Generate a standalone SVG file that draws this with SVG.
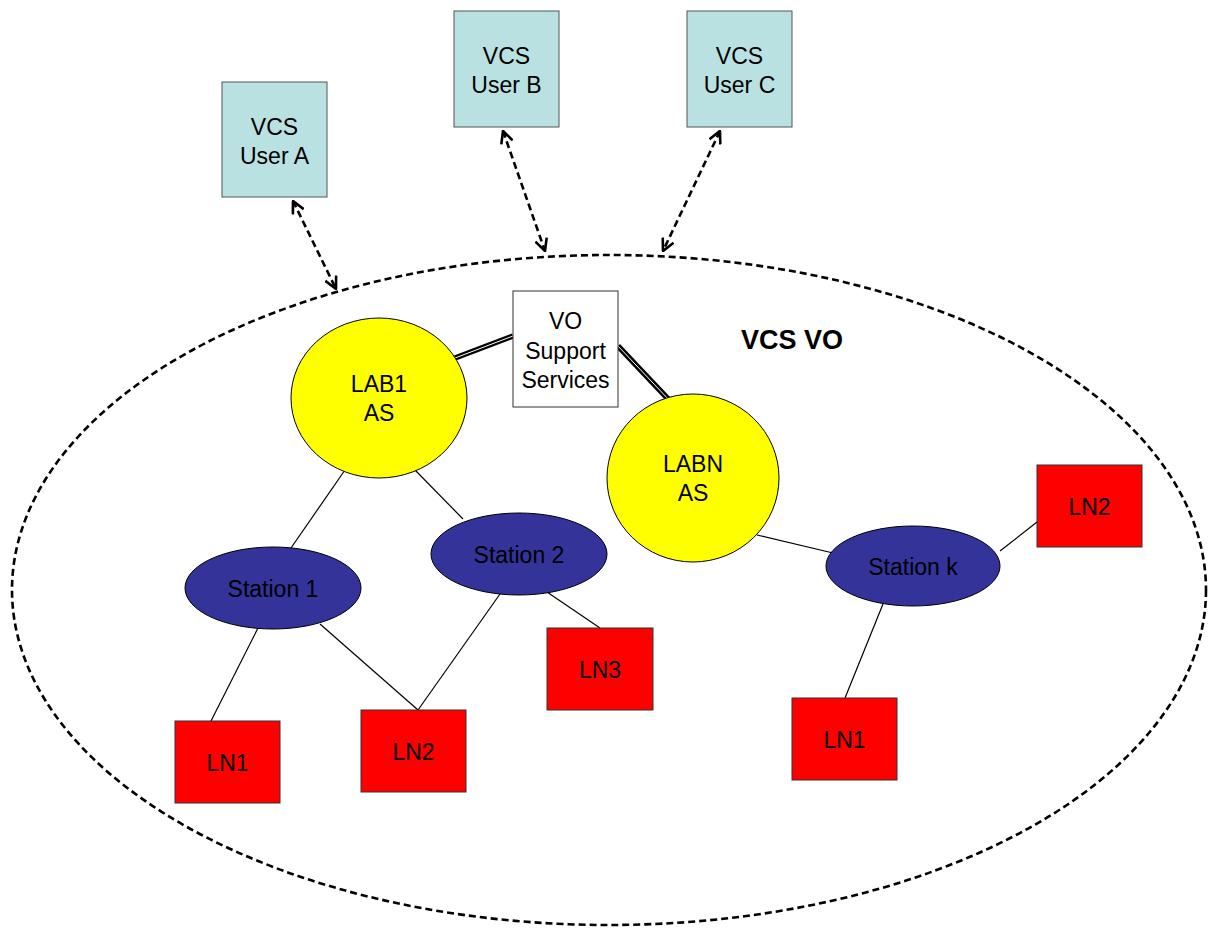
<svg xmlns="http://www.w3.org/2000/svg" width="1213" height="928" viewBox="0 0 1213 928">
<defs>
<marker id="ah" viewBox="0 0 14 14" refX="13" refY="7" markerWidth="14" markerHeight="14" markerUnits="userSpaceOnUse" orient="auto-start-reverse">
<path d="M1,1 L13,7 L1,13" fill="none" stroke="#000" stroke-width="2.6"/>
</marker>
<style>
text{font-family:"Liberation Sans",Arial,sans-serif;font-size:23px;fill:#000;text-anchor:middle}
.user{fill:#B9E1E2;stroke:#555;stroke-width:1}
.ln{fill:#FF0000;stroke:#333;stroke-width:1}
.as{fill:#FFFF00;stroke:#000;stroke-width:1}
.st{fill:#333399;stroke:#000;stroke-width:1}
.plain{stroke:#000;stroke-width:1.2;fill:none}
.dash{stroke:#000;stroke-width:2.6;fill:none;stroke-dasharray:7 4}
.dbl{stroke:#000;stroke-width:5.5;fill:none}
.dblin{stroke:#fff;stroke-width:1;fill:none}
</style>
</defs>
<rect width="1213" height="928" fill="#fff"/>
<ellipse id="vo" cx="609" cy="590" rx="597" ry="335" class="dash"/>
<text x="792" y="349" style="font-weight:bold;font-size:27px">VCS VO</text>
<g id="connectors">
<line class="plain" x1="345" y1="470" x2="291" y2="548"/>
<line class="plain" x1="415" y1="470" x2="463" y2="519"/>
<line class="plain" x1="258" y1="628" x2="211" y2="721"/>
<line class="plain" x1="320" y1="624" x2="418" y2="710"/>
<line class="plain" x1="500" y1="594" x2="418" y2="710"/>
<line class="plain" x1="547" y1="592" x2="600" y2="628"/>
<line class="plain" x1="757" y1="535" x2="833" y2="553"/>
<line class="plain" x1="1000" y1="551" x2="1037" y2="522"/>
<line class="plain" x1="883" y1="604" x2="845" y2="698"/>
<line class="dbl" x1="455" y1="358" x2="513" y2="336"/>
<line class="dblin" x1="455" y1="358" x2="513" y2="336"/>
<line class="dbl" x1="618" y1="346" x2="670" y2="401"/>
<line class="dblin" x1="618" y1="346" x2="670" y2="401"/>
<line class="dash" x1="293" y1="201" x2="336" y2="289" marker-start="url(#ah)" marker-end="url(#ah)"/>
<line class="dash" x1="503" y1="131" x2="545" y2="251" marker-start="url(#ah)" marker-end="url(#ah)"/>
<line class="dash" x1="720" y1="131" x2="663" y2="251" marker-start="url(#ah)" marker-end="url(#ah)"/>
</g>
<g id="userA"><rect class="user" x="222" y="82" width="105" height="115"/><text x="274.5" y="135">VCS</text><text x="274.5" y="164">User A</text></g>
<g id="userB"><rect class="user" x="454" y="11" width="105" height="116"/><text x="506.5" y="64">VCS</text><text x="506.5" y="93">User B</text></g>
<g id="userC"><rect class="user" x="687" y="11" width="105" height="116"/><text x="739.5" y="64">VCS</text><text x="739.5" y="93">User C</text></g>
<g id="vosupport"><rect x="513" y="291" width="105" height="116" fill="#fff" stroke="#333" stroke-width="1"/><text x="565.5" y="329">VO</text><text x="565.5" y="359">Support</text><text x="565.5" y="388">Services</text></g>
<g id="lab1"><ellipse class="as" cx="379" cy="398" rx="88" ry="80"/><text x="379" y="392">LAB1</text><text x="379" y="421">AS</text></g>
<g id="labn"><ellipse class="as" cx="693" cy="478" rx="86" ry="84"/><text x="693" y="472">LABN</text><text x="693" y="501">AS</text></g>
<g id="station1"><ellipse class="st" cx="273" cy="588" rx="88" ry="41"/><text x="273" y="597">Station 1</text></g>
<g id="station2"><ellipse class="st" cx="519" cy="554" rx="88" ry="41"/><text x="519" y="563">Station 2</text></g>
<g id="stationk"><ellipse class="st" cx="913" cy="566" rx="87" ry="40"/><text x="913" y="575">Station k</text></g>
<g id="ln1a"><rect class="ln" x="175" y="721" width="105" height="82"/><text x="227.5" y="771">LN1</text></g>
<g id="ln2a"><rect class="ln" x="361" y="710" width="105" height="82"/><text x="413.5" y="760">LN2</text></g>
<g id="ln3"><rect class="ln" x="547" y="628" width="106" height="82"/><text x="600" y="678">LN3</text></g>
<g id="ln2b"><rect class="ln" x="1037" y="465" width="105" height="82"/><text x="1089.5" y="515">LN2</text></g>
<g id="ln1b"><rect class="ln" x="792" y="698" width="105" height="82"/><text x="844.5" y="748">LN1</text></g>
</svg>
